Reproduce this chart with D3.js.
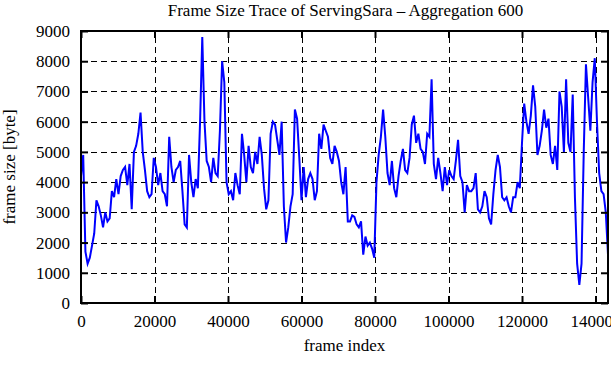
<!DOCTYPE html>
<html>
<head>
<meta charset="utf-8">
<script src="https://cdn.jsdelivr.net/npm/d3@7"></script>
<style>
  body { margin: 0; background: #fff; }
  svg { display: block; }
</style>
</head>
<body>
<div id="chart"></div>
<script>
// aggregation step (frames per point)
const step = 600

// frame size [byte], one value per 600-frame bin
const frameSize = [
  4200, 4900, 1700, 1300, 1500, 1900, 2300, 3400, 3200, 2900,
  2500, 3000, 2700, 2800, 3700, 3500, 4100, 3600, 4200, 4400,
  4500, 3900, 4600, 3100, 5000, 5200, 5600, 6300, 5000, 4400,
  3700, 3500, 3600, 4800, 4500, 3900, 4300, 3700, 3600, 3200,
  5500, 4500, 4000, 4400, 4500, 4700, 3700, 2600, 2500, 4900,
  4000, 3500, 4100, 3800, 6000, 8800, 6000, 4700, 4500, 4000,
  4800, 4300, 4200, 5700, 8000, 7300, 4000, 3600, 3700, 3400,
  4300, 3900, 3600, 5600, 4900, 4000, 5200, 4500, 4300, 5000,
  4600, 5500, 4900, 3800, 3100, 3400, 5600, 6000, 5900, 5400,
  4900, 6000, 3200, 2000, 2500, 3200, 3600, 6400, 6100, 4800,
  3400, 4500, 3500, 4100, 4300, 4100, 3400, 3700, 5600, 5100,
  5900, 5700, 5500, 4800, 4600, 5200, 5000, 4700, 4000, 3600,
  4500, 2700, 2700, 2900, 2850, 2600, 2500, 2700, 1600, 2200,
  1900, 2000, 1800, 1500, 4000, 4900, 5500, 6400, 5500, 4300,
  3900, 4700, 3800, 3500, 4200, 4700, 5100, 4400, 4300, 4800,
  5900, 6200, 5300, 5600, 5100, 5000, 4600, 5600, 5500, 7400,
  4600, 4100, 4800, 4300, 3700, 4500, 3900, 4400, 4200, 4100,
  4700, 5400, 4200, 4000, 3000, 3900, 3700, 3700, 3800, 4300,
  3100, 3000, 3200, 3700, 3500, 2800, 2600, 3600, 4400, 4900,
  4500, 3500, 3400, 3500, 3200, 3000, 3500, 3500, 4000, 3800,
  5300, 6600, 6000, 5600, 6200, 7200, 6500, 4900, 5200, 5700,
  6400, 5800, 6100, 4900, 4600, 5200, 4400, 7000, 6500, 5000,
  7400, 5300, 5000, 6900, 3500, 1300, 600, 1300, 5000, 7900,
  6800, 5700, 7300, 8100, 6000, 4300, 3700, 3600, 3000, 1600
]

const xTicks = [0, 20000, 40000, 60000, 80000, 100000, 120000, 140000]
const yTicks = [0, 1000, 2000, 3000, 4000, 5000, 6000, 7000, 8000, 9000]

const title = "Frame Size Trace of ServingSara \u2013 Aggregation 600"
const xLabel = "frame index"
const yLabel = "frame size [byte]"

const width = 611
const height = 380
const margin = { top: 31, right: 3, bottom: 77, left: 81 }
const font = "'Liberation Serif', 'DejaVu Serif', serif"

const data = frameSize.map((v, i) => ({ frame: i * step, size: v }))

const x = d3.scaleLinear()
    .domain([0, (frameSize.length - 1) * step])
    .range([margin.left, width - margin.right])

const y = d3.scaleLinear()
    .domain([0, 9000])
    .range([height - margin.bottom, margin.top])

const svg = d3.select("#chart")
  .append("svg")
    .attr("width", width)
    .attr("height", height)
    .style("font-family", font)

// grid
const grid = svg.append("g")
    .attr("stroke", "#000")
    .attr("stroke-width", 1)
    .attr("stroke-dasharray", "6,4")

grid.selectAll("line.gx")
  .data(xTicks.slice(1))
  .join("line")
    .attr("class", "gx")
    .attr("x1", d => Math.round(x(d)) + 0.5)
    .attr("x2", d => Math.round(x(d)) + 0.5)
    .attr("y1", y(0))
    .attr("y2", y(9000))

grid.selectAll("line.gy")
  .data(yTicks.slice(1, -1))
  .join("line")
    .attr("class", "gy")
    .attr("x1", x.range()[0])
    .attr("x2", x.range()[1])
    .attr("y1", d => Math.round(y(d)) + 0.5)
    .attr("y2", d => Math.round(y(d)) + 0.5)

// trace
const line = d3.line()
    .x(d => x(d.frame))
    .y(d => y(d.size))

svg.append("path")
    .datum(data)
    .attr("fill", "none")
    .attr("stroke", "#0000ff")
    .attr("stroke-width", 2)
    .attr("d", line)

// axes, ticks pointing inward on all four sides
const tick = 7
const fontSize = 17

svg.append("g")
    .attr("transform", `translate(0,${y(0)})`)
    .call(d3.axisBottom(x).tickValues(xTicks).tickSize(-tick).tickPadding(12).tickFormat(d3.format("d")))

svg.append("g")
    .attr("transform", `translate(0,${y(9000)})`)
    .call(d3.axisTop(x).tickValues(xTicks).tickSize(-tick).tickFormat(""))

svg.append("g")
    .attr("transform", `translate(${x.range()[0]},0)`)
    .call(d3.axisLeft(y).tickValues(yTicks).tickSize(-tick).tickPadding(11).tickFormat(d3.format("d")))

svg.append("g")
    .attr("transform", `translate(${x.range()[1]},0)`)
    .call(d3.axisRight(y).tickValues(yTicks).tickSize(-tick).tickFormat(""))

svg.selectAll(".domain").remove()
svg.selectAll(".tick line").attr("stroke", "#000").attr("stroke-width", 2)
svg.selectAll(".tick text")
    .attr("fill", "#000")
    .style("font-family", font)
    .style("font-size", fontSize + "px")

// frame
svg.append("rect")
    .attr("x", x.range()[0])
    .attr("y", y(9000))
    .attr("width", x.range()[1] - x.range()[0])
    .attr("height", y(0) - y(9000))
    .attr("fill", "none")
    .attr("stroke", "#000")
    .attr("stroke-width", 2)

// labels
svg.append("text")
    .attr("x", (x.range()[0] + x.range()[1]) / 2 + 1)
    .attr("y", 16)
    .attr("text-anchor", "middle")
    .style("font-size", fontSize + "px")
    .text(title)

svg.append("text")
    .attr("x", (x.range()[0] + x.range()[1]) / 2)
    .attr("y", 351)
    .attr("text-anchor", "middle")
    .style("font-size", fontSize + "px")
    .text(xLabel)

svg.append("text")
    .attr("transform", `translate(15,${(y(0) + y(9000)) / 2}) rotate(-90)`)
    .attr("text-anchor", "middle")
    .style("font-size", fontSize + "px")
    .text(yLabel)
</script>
</body>
</html>
